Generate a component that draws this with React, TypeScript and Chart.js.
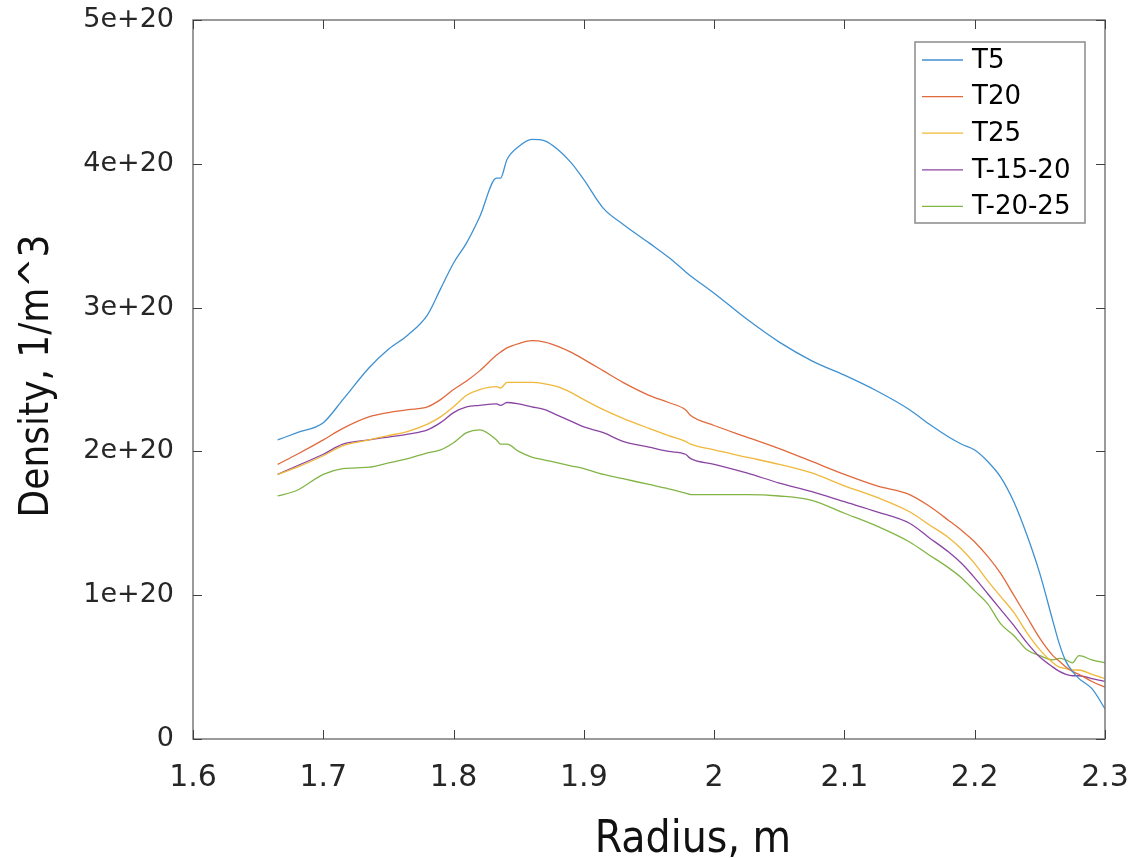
import React, { useEffect, useRef } from "react";
import { Chart, registerables } from "chart.js";

Chart.register(...registerables);

const UNIT = 1e20;

const radius = [
  1.665, 1.68, 1.7, 1.715, 1.735, 1.75, 1.765, 1.78, 1.79, 1.8,
  1.81, 1.82, 1.833, 1.836, 1.841, 1.85, 1.86, 1.87, 1.88, 1.89,
  1.9, 1.915, 1.93, 1.95, 1.965, 1.978, 1.982, 2.0, 2.025, 2.05,
  2.075, 2.1, 2.125, 2.15, 2.165, 2.18, 2.19, 2.2, 2.21, 2.22,
  2.23, 2.24, 2.25, 2.26, 2.265, 2.27, 2.275, 2.28, 2.29, 2.3,
];

const t5 = [
  2.08, 2.13, 2.2, 2.36, 2.58, 2.71, 2.81, 2.95, 3.13, 3.31,
  3.45, 3.63, 3.9, 3.9, 4.03, 4.12, 4.17, 4.16, 4.1, 4.01,
  3.89, 3.69, 3.58, 3.45, 3.35, 3.25, 3.22, 3.1, 2.92, 2.76,
  2.63, 2.53, 2.42, 2.29, 2.19, 2.1, 2.05, 2.01, 1.93, 1.82,
  1.65, 1.42, 1.15, 0.82, 0.66, 0.54, 0.47, 0.42, 0.35, 0.21,
];

const t20 = [
  1.91, 1.98, 2.08, 2.16, 2.24, 2.27, 2.29, 2.31, 2.36, 2.43,
  2.49, 2.56, 2.67, 2.69, 2.72, 2.75, 2.77, 2.76, 2.73, 2.69,
  2.64, 2.56, 2.48, 2.39, 2.34, 2.29, 2.25, 2.18, 2.1, 2.02,
  1.93, 1.84, 1.76, 1.7, 1.62, 1.52, 1.45, 1.37, 1.27, 1.15,
  1.0, 0.85, 0.7, 0.58, 0.54, 0.5, 0.47, 0.45, 0.4, 0.36,
];

const t25 = [
  1.84, 1.89, 1.97, 2.04, 2.08, 2.11, 2.14, 2.19, 2.24, 2.31,
  2.39, 2.43, 2.45, 2.44, 2.48, 2.48, 2.48, 2.47, 2.45, 2.41,
  2.36, 2.29, 2.23, 2.16, 2.11, 2.07, 2.05, 2.01, 1.96, 1.91,
  1.85, 1.76, 1.68, 1.58, 1.49, 1.4, 1.32, 1.22, 1.1, 0.99,
  0.88, 0.74, 0.62, 0.53, 0.5, 0.49, 0.48, 0.48, 0.45, 0.42,
];

const t1520 = [
  1.84, 1.9, 1.98, 2.05, 2.08, 2.1, 2.12, 2.15, 2.2, 2.27,
  2.31, 2.32, 2.33, 2.32, 2.34, 2.33, 2.31, 2.29, 2.25, 2.21,
  2.17, 2.13, 2.07, 2.03, 2.0, 1.98, 1.95, 1.91, 1.85, 1.78,
  1.72, 1.65, 1.58, 1.5, 1.4, 1.3, 1.22, 1.12, 1.01, 0.9,
  0.79, 0.67, 0.57, 0.5, 0.47, 0.45, 0.44, 0.44, 0.42, 0.4,
];

const t2025 = [
  1.69, 1.73, 1.84, 1.88, 1.89, 1.92, 1.95, 1.99, 2.01, 2.06,
  2.13, 2.15, 2.08, 2.05, 2.05, 2.0, 1.96, 1.94, 1.92, 1.9,
  1.88, 1.84, 1.81, 1.77, 1.74, 1.71, 1.7, 1.7, 1.7, 1.69,
  1.66, 1.57, 1.48, 1.37, 1.28, 1.19, 1.12, 1.03, 0.94, 0.8,
  0.72, 0.62, 0.58, 0.55, 0.56, 0.55, 0.53, 0.58, 0.55, 0.53,
];

const seriesNames = ["T5", "T20", "T25", "T-15-20", "T-20-25"];
const seriesValues = [t5, t20, t25, t1520, t2025];
const seriesColors = ["#3f91d2", "#e06a3c", "#f0b83a", "#8a45a2", "#82b546"];

const xTicks = [1.6, 1.7, 1.8, 1.9, 2.0, 2.1, 2.2, 2.3];
const yTicks = [0, 1, 2, 3, 4, 5];

const xTitle = "Radius, m";
const yTitle = "Density, 1/m^3";

const TICK_FONT = "'DejaVu Sans', 'Liberation Sans', sans-serif";
const TITLE_FONT = "'DejaVu Sans Condensed', 'Liberation Sans Narrow', 'Liberation Sans', sans-serif";

const boxPlugin = {
  id: "boxPlugin",
  afterDatasetsDraw(chart: any) {
    const { ctx, chartArea, scales } = chart;
    const { left, right, top, bottom } = chartArea;
    const x = scales.x;
    const y = scales.y;
    ctx.save();
    ctx.strokeStyle = "#7a7a7a";
    ctx.lineWidth = 1.5;
    ctx.strokeRect(left, top, right - left, bottom - top);
    ctx.strokeStyle = "#404040";
    ctx.lineWidth = 1;
    const tl = 9;
    ctx.beginPath();
    xTicks.forEach((v) => {
      const px = Math.round(x.getPixelForValue(v)) + 0.5;
      ctx.moveTo(px, bottom);
      ctx.lineTo(px, bottom - tl);
      ctx.moveTo(px, top);
      ctx.lineTo(px, top + tl);
    });
    yTicks.forEach((v) => {
      const py = Math.round(y.getPixelForValue(v * UNIT)) + 0.5;
      ctx.moveTo(left, py);
      ctx.lineTo(left + tl, py);
      ctx.moveTo(right, py);
      ctx.lineTo(right - tl, py);
    });
    ctx.stroke();

    // legend
    const lx = 915, ly = 42, lw = 170, lh = 181;
    ctx.fillStyle = "#ffffff";
    ctx.fillRect(lx, ly, lw, lh);
    ctx.strokeStyle = "#8a8a8a";
    ctx.lineWidth = 1.5;
    ctx.strokeRect(lx, ly, lw, lh);
    ctx.font = `26px ${TICK_FONT}`;
    ctx.textBaseline = "middle";
    ctx.textAlign = "left";
    chart.data.datasets.forEach((ds: any, i: number) => {
      const cy = 60 + i * 36.6;
      ctx.strokeStyle = ds.borderColor;
      ctx.lineWidth = 1.3;
      ctx.beginPath();
      ctx.moveTo(922, cy);
      ctx.lineTo(963, cy);
      ctx.stroke();
      ctx.fillStyle = "#000000";
      ctx.fillText(ds.label, 972, cy + 1);
    });

    // axis titles
    ctx.fillStyle = "#111111";
    ctx.font = `44px ${TITLE_FONT}`;
    ctx.textAlign = "center";
    ctx.textBaseline = "alphabetic";
    ctx.fillText(xTitle, 693, 852);
    ctx.save();
    ctx.font = `40px ${TITLE_FONT}`;
    ctx.translate(48, 376);
    ctx.rotate(-Math.PI / 2);
    ctx.fillText(yTitle, 0, 0);
    ctx.restore();
    ctx.restore();
  },
};

export default function App() {
  const ref = useRef<HTMLCanvasElement | null>(null);

  useEffect(() => {
    document.body.style.margin = "0";
    const canvas = ref.current;
    if (!canvas) return;
    const chart = new Chart(canvas, {
      type: "line",
      data: {
        datasets: seriesNames.map((name, i) => ({
          label: name,
          data: radius.map((r, j) => ({ x: r, y: seriesValues[i][j] * UNIT })),
          borderColor: seriesColors[i],
          backgroundColor: seriesColors[i],
          borderWidth: 1.3,
          pointRadius: 0,
          fill: false,
          cubicInterpolationMode: "monotone" as const,
        })),
      },
      options: {
        responsive: false,
        animation: false,
        devicePixelRatio: 1,
        layout: { padding: { top: 20, right: 29, left: 0, bottom: 0 } },
        plugins: {
          legend: { display: false },
          tooltip: { enabled: false },
        },
        scales: {
          x: {
            type: "linear",
            min: 1.6,
            max: 2.3,
            afterFit: (s: any) => {
              s.height = 119;
              s.paddingLeft = 0;
              s.paddingRight = 0;
              s.paddingTop = 0;
              s.paddingBottom = 0;
            },
            afterBuildTicks: (s: any) => {
              s.ticks = xTicks.map((v) => ({ value: v }));
            },
            grid: { display: false, drawTicks: false },
            border: { display: false },
            ticks: {
              padding: 21,
              maxRotation: 0,
              autoSkip: false,
              color: "#262626",
              font: { size: 30, family: TICK_FONT },
              callback: (v: any) => {
                const n = Number(v);
                return Math.abs(n - Math.round(n)) < 1e-9 ? String(Math.round(n)) : n.toFixed(1);
              },
            },
          },
          y: {
            type: "linear",
            min: 0,
            max: 5 * UNIT,
            afterFit: (s: any) => {
              s.width = 193;
              s.paddingLeft = 0;
              s.paddingRight = 0;
              s.paddingTop = 0;
              s.paddingBottom = 0;
            },
            afterBuildTicks: (s: any) => {
              s.ticks = yTicks.map((v) => ({ value: v * UNIT }));
            },
            grid: { display: false, drawTicks: false },
            border: { display: false },
            ticks: {
              padding: 19,
              autoSkip: false,
              color: "#262626",
              font: { size: 27, family: TICK_FONT },
              callback: (v: any) => {
                const n = Math.round(Number(v) / UNIT);
                return n === 0 ? "0" : `${n}e+20`;
              },
            },
          },
        },
      },
      plugins: [boxPlugin],
    });
    return () => chart.destroy();
  }, []);

  return (
    <div style={{ position: "absolute", left: 0, top: 0, width: 1134, height: 858, background: "#fff" }}>
      <canvas ref={ref} width={1134} height={858} style={{ width: 1134, height: 858, display: "block" }} />
    </div>
  );
}
